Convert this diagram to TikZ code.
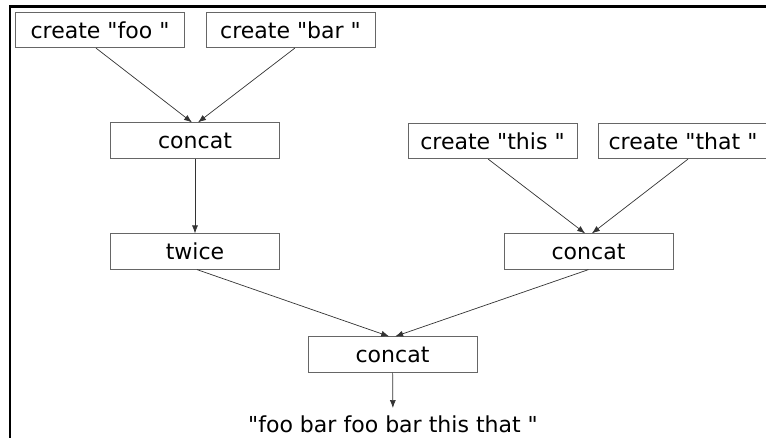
\documentclass[tikz,border=0pt]{standalone}
\usepackage{fontspec}
\setmainfont{DejaVu Sans}[Ligatures=TeXOff]
\usetikzlibrary{arrows.meta}

\begin{document}
\begin{tikzpicture}[>={Latex[length=0.24cm,width=0.18cm]}, every node/.style={font=\fontsize{18.8}{22}\selectfont}]
		\tikzstyle{op}=[draw=black!60,line width=0.6pt,minimum width=5.07cm,minimum height=1.065cm,inner sep=0pt]
		\tikzstyle{link}=[black!80,line width=0.6pt]
		\useasboundingbox (0,0) rectangle (22.98,-13.14);
		\draw[line width=0.085cm] (0.30,-13.2) |- (23.1,-0.195);
		
		\node[op](foo) at (3.00 cm, -0.90 cm){create "foo "};
		\node[op](bar) at (8.715 cm, -0.90 cm){create "bar "};
		\node[op](c-1) at (5.85 cm, -4.215 cm){concat};
		\node[op](this) at (14.775 cm, -4.23 cm){create "this "};
		\node[op](that) at (20.49 cm, -4.23 cm){create "that "};
		\node[op](twice) at (5.85 cm, -7.545 cm){twice};
		\node[op](c-2) at (17.655 cm, -7.545 cm){concat};
		\node[op](c-3) at (11.775 cm, -10.635 cm){concat};
		\node[anchor=base,inner sep=0.21cm](out) at (11.79 cm, -12.96 cm){"foo bar foo bar this that "};
		
		\path[->,link] ([xshift=-0.12cm]foo.south) edge ([xshift=-0.09cm]c-1.north)
		([xshift=0.13cm]bar.south) edge ([xshift=0.09cm]c-1.north)
		(c-1) edge (twice)
		([xshift=-0.13cm]this.south) edge ([xshift=-0.1cm]c-2.north)
		([xshift=0.15cm]that.south) edge ([xshift=0.1cm]c-2.north)
		([xshift=0.06cm]twice.south) edge ([xshift=-0.1cm]c-3.north)
		(c-2.south) edge ([xshift=0.08cm]c-3.north)
		(c-3) edge (out);
\end{tikzpicture}
\end{document}
